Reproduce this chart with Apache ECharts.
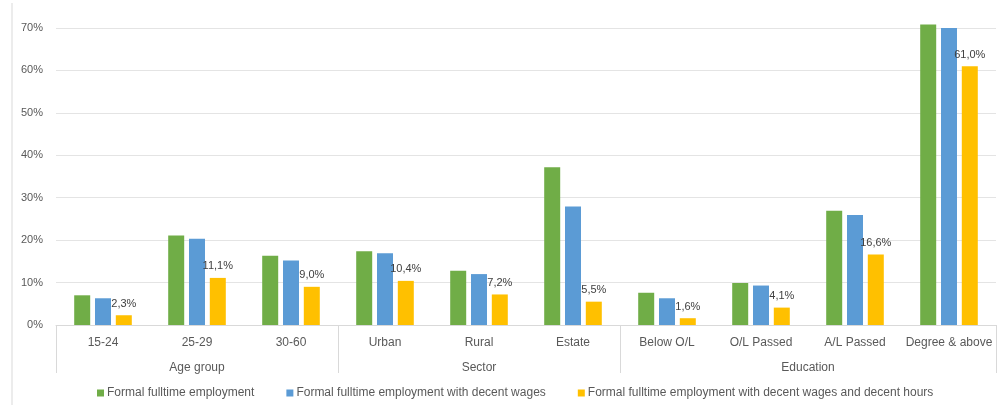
<!DOCTYPE html>
<html>
<head>
<meta charset="utf-8">
<script src="https://cdn.jsdelivr.net/npm/echarts@6/dist/echarts.min.js"></script>
<style>
html,body{margin:0;padding:0;background:#fff;}
#c{width:997px;height:405px;}
</style>
</head>
<body>
<div id="c"></div>
<script>
const categories = ['15-24','25-29','30-60','Urban','Rural','Estate','Below O/L','O/L Passed','A/L Passed','Degree & above'];
const groupNames = ['Age group','Sector','Education'];
const groupSizes = [3,3,4];
const seriesNames = ['Formal fulltime employment','Formal fulltime employment with decent wages','Formal fulltime employment with decent wages and decent hours'];
const formalFulltime = [7.0,21.1,16.3,17.4,12.8,37.2,7.6,9.9,26.9,70.8];
const decentWages = [6.3,20.3,15.2,16.9,12.0,27.9,6.3,9.3,25.9,70.0];
const decentWagesHours = [2.3,11.1,9.0,10.4,7.2,5.5,1.6,4.1,16.6,61.0];
const yTicks = [0,10,20,30,40,50,60,70];

// Build half-step positions for the group axis (boundaryGap false)
const halfSlots = [];
for (let i = 0; i <= categories.length * 2; i++) halfSlots.push(String(i));
const boundaryIdx = [0];
const labelIdx = {};
let acc = 0;
groupSizes.forEach((s, g) => {
  labelIdx[acc * 2 + s] = groupNames[g];
  acc += s;
  boundaryIdx.push(acc * 2);
});

const font = 'Liberation Sans, Arial, sans-serif';
const txt = '#595959';
const colors = ['#70AD47','#5B9BD5','#FFC000'];
const dataSets = [formalFulltime, decentWages, decentWagesHours];

const chart = echarts.init(document.getElementById('c'), null, {renderer:'canvas'});
chart.setOption({
  animation: false,
  backgroundColor: '#fff',
  color: colors,
  textStyle: {fontFamily: font},
  grid: {left: 56, right: 1, top: 28, bottom: 80, containLabel: false},
  legend: {
    left: 92, top: 382,
    itemWidth: 7, itemHeight: 7, itemGap: 32,
    icon: 'rect',
    textStyle: {color: txt, fontSize: 12, fontFamily: font, padding: [0,0,0,-2]},
    data: seriesNames
  },
  xAxis: [
    {
      type: 'category',
      data: categories,
      axisLine: {lineStyle: {color: '#D9D9D9'}},
      axisTick: {show: false},
      axisLabel: {color: txt, fontSize: 12, fontFamily: font, margin: 12, interval: 0}
    },
    {
      type: 'category',
      data: halfSlots,
      boundaryGap: false,
      position: 'bottom',
      axisLine: {show: false},
      axisTick: {
        show: true, length: 48,
        lineStyle: {color: '#D9D9D9'},
        interval: (idx) => boundaryIdx.indexOf(idx) >= 0
      },
      axisLabel: {
        color: txt, fontSize: 12, fontFamily: font, margin: 37,
        interval: (idx) => labelIdx[idx] !== undefined,
        formatter: (v, idx) => labelIdx[idx] || ''
      },
      splitLine: {show: false}
    }
  ],
  yAxis: {
    type: 'value',
    min: yTicks[0], max: yTicks[yTicks.length - 1], interval: 10,
    axisLine: {show: false},
    axisTick: {show: false},
    splitLine: {lineStyle: {color: '#E4E4E4'}},
    axisLabel: {color: txt, fontSize: 11, fontFamily: font, margin: 13, formatter: '{value}%'}
  },
  series: seriesNames.map((n, i) => ({
    name: n,
    type: 'bar',
    xAxisIndex: 0,
    data: dataSets[i],
    barWidth: 16,
    barGap: '30%',
    clip: false,
    itemStyle: {color: colors[i]},
    label: i === 2 ? {
      show: true, position: 'top', distance: 6,
      color: '#404040', fontSize: 11, fontFamily: font,
      formatter: (p) => p.value.toFixed(1).replace('.', ',') + '%'
    } : {show: false}
  })),
  graphic: [
    {type: 'line', shape: {x1: 12, y1: 3, x2: 12, y2: 405}, style: {stroke: '#D9D9D9', lineWidth: 1}, silent: true}
  ]
});
</script>
</body>
</html>
